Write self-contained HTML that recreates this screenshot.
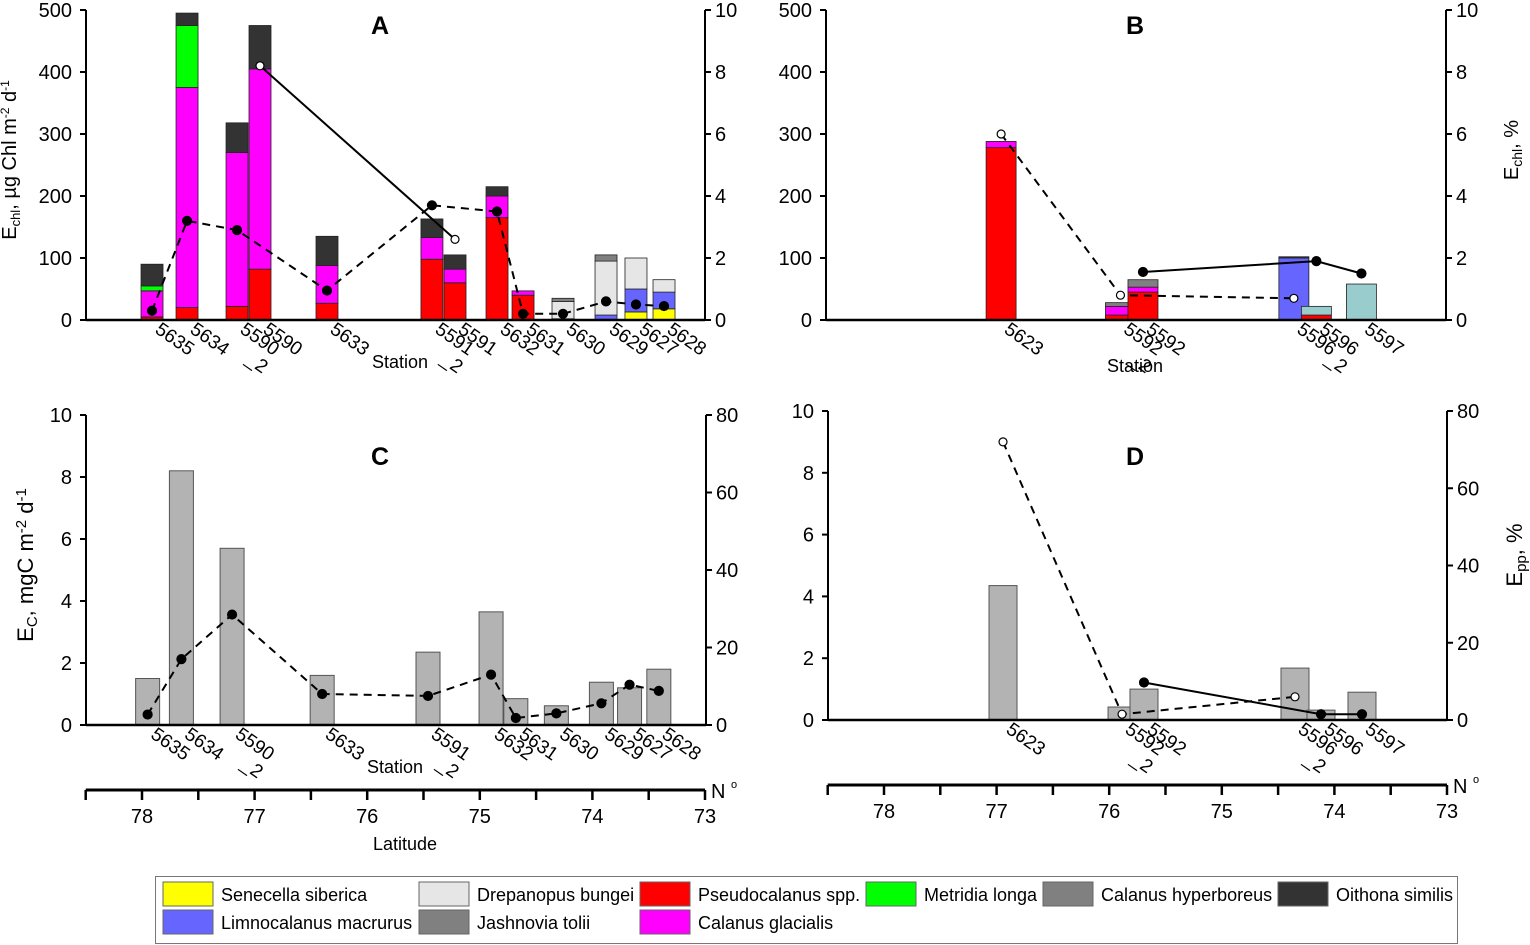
<!DOCTYPE html>
<html><head><meta charset="utf-8"><style>
html,body{margin:0;padding:0;background:#fff;}
svg{display:block;font-family:"Liberation Sans",sans-serif;}
</style></head><body>
<svg id="fig" width="1530" height="945" viewBox="0 0 1530 945"></svg>
<script>
// ---------- DATA ----------
const speciesNames = ["Senecella siberica","Limnocalanus macrurus","Pseudocalanus spp.","Calanus glacialis","Metridia longa","Drepanopus bungei","Calanus hyperboreus","Oithona similis","Other"];
const speciesColors = ["#ffff00","#6666ff","#ff0000","#ff00ff","#00ff00","#e6e6e6","#808080","#333333","#99cccc"];

const stationsA = ["5635","5634","5590_2","5590","5633","5591_2","5591","5632","5631","5630","5629","5627","5628"];
const posA = [77.911,77.60,77.156,76.952,76.357,75.425,75.22,74.847,74.616,74.261,73.879,73.613,73.364];
const stackA = [
 [0,0,0,0,0,0,0,0,0,0,0,13,18],
 [0,0,0,0,0,0,0,0,0,2,8,37,27],
 [5,20,22,82,27,98,60,165,40,0,0,0,0],
 [42,355,248,323,61,35,22,35,7,0,0,0,0],
 [8,100,0,0,0,0,0,0,0,0,0,0,0],
 [0,0,0,0,0,0,0,0,0,28,87,50,20],
 [0,0,0,0,0,0,0,0,0,5,10,0,0],
 [35,20,48,70,47,30,23,15,0,0,0,0,0],
 [0,0,0,0,0,0,0,0,0,0,0,0,0]
];
const dashStA = ["5635","5634","5590_2","5633","5591_2","5632","5631","5630","5629","5627","5628"];
const dashValA = [0.3,3.2,2.9,0.95,3.7,3.5,0.2,0.2,0.6,0.5,0.45];
const solidStA = ["5590","5591"];
const solidValA = [8.2,2.6];

const stationsB = ["5623","5592_2","5592","5596","5596_2","5597"];
const posB = [76.96,75.90,75.70,74.36,74.16,73.76];
const stackB = [
 [0,0,0,0,0,0],
 [0,0,0,100,0,0],
 [278,8,45,0,8,0],
 [10,14,8,0,0,0],
 [0,0,0,0,0,0],
 [0,0,0,0,0,0],
 [0,6,12,0,0,0],
 [0,0,0,2,0,0],
 [0,0,0,0,14,58]
];
const dashStB = ["5623","5592_2","5596"];
const dashValB = [6.0,0.8,0.7];
const solidStB = ["5592","5596_2","5597"];
const solidValB = [1.55,1.9,1.5];

const stationsC = ["5635","5634","5590_2","5633","5591_2","5632","5631","5630","5629","5627","5628"];
const latC = [77.95,77.65,77.2,76.4,75.46,74.9,74.68,74.32,73.92,73.67,73.41];
const valC = [1.5,8.2,5.7,1.6,2.35,3.65,0.85,0.62,1.38,1.2,1.8];
const pctC = [2.7,17,28.5,8,7.5,13,1.8,3,5.6,10.4,8.8];

const stationsD = ["5623","5592_2","5592","5596_2","5596","5597"];
const latD = [76.943,75.886,75.691,74.35,74.119,73.755];
const valD = [4.35,0.42,1.0,1.68,0.32,0.9];
const dashStD = ["5623","5592_2","5596_2"];
const dashValD = [72,1.5,6];
const solidStD = ["5592","5596","5597"];
const solidValD = [9.7,1.5,1.5];

const ticksChl = [0,100,200,300,400,500];
const ticksPct10 = [0,2,4,6,8,10];
const ticksPct80 = [0,20,40,60,80];
const ticksLat = [78,77,76,75,74,73];

// ---------- HELPERS ----------
const NS="http://www.w3.org/2000/svg";
const svg=document.getElementById("fig");
function el(tag,attrs,parent,txt){const e=document.createElementNS(NS,tag);for(const k in attrs)e.setAttribute(k,attrs[k]);if(txt!==undefined)e.textContent=txt;(parent||svg).appendChild(e);return e;}
function grp(name){const g=el("g",{});return g;}

function panel(cfg){
  const P=grp(cfg.name);
  const xs=lat=>cfg.x78+(78-lat)*112.6;
  const yl=v=>cfg.y0-(v/cfg.lmax)*(cfg.y0-cfg.ytop);
  const yr=v=>cfg.y0-(v/cfg.rmax)*(cfg.y0-cfg.ytop);
  const bg=el("g",{},P);
  cfg.bars(bg,xs,yl);
  const xa=el("line",{x1:cfg.xl,x2:cfg.xr,y1:cfg.y0,y2:cfg.y0,stroke:"#000","stroke-width":2.5},P);
  
  const la=el("g",{},P);
  el("line",{x1:cfg.xl,x2:cfg.xl,y1:cfg.ytop,y2:cfg.y0,stroke:"#000","stroke-width":2},la);
  cfg.lticks.forEach(t=>{const y=yl(t);el("line",{x1:cfg.xl-6,x2:cfg.xl,y1:y,y2:y,stroke:"#000","stroke-width":2},la);
    const tx=el("text",{x:cfg.xl-14,y:y+7,"text-anchor":"end","font-size":20},la,t);});
  const ra=el("g",{},P);
  el("line",{x1:cfg.xr,x2:cfg.xr,y1:cfg.ytop,y2:cfg.y0,stroke:"#000","stroke-width":2},ra);
  cfg.rticks.forEach(t=>{const y=yr(t);el("line",{x1:cfg.xr,x2:cfg.xr+6,y1:y,y2:y,stroke:"#000","stroke-width":2},ra);
    const tx=el("text",{x:cfg.xr+10,y:y+7,"font-size":20},ra,t);});
  function series(st,vals,pos,stations,dash,open,nm){
    const pts=st.map((s,i)=>[xs(pos[stations.indexOf(s)]),yr(vals[i])]);
    const sg=el("g",{},P);
    el("polyline",{points:pts.map(p=>p.join(",")).join(" "),fill:"none",stroke:"#000","stroke-width":2,"stroke-dasharray":dash?"8,6":"none"},sg);
    pts.forEach(p=>{const c=el("circle",{cx:p[0],cy:p[1],r:open?4:4.5,fill:open?"#fff":"#000",stroke:"#000","stroke-width":1.2},sg);});
  }
  cfg.lines.forEach(l=>series(l[0],l[1],cfg.pos,cfg.stations,l[2],l[3],l[4]));
  const sl=el("g",{},P);
  cfg.stations.forEach((s,i)=>{const x=xs(cfg.pos[i])+2,y=cfg.y0+12;
    const t=el("text",{x:x,y:y,"font-size":19,transform:`rotate(35 ${x} ${y})`},sl);
    const parts=s.split("_");el("tspan",{x:x,dy:0},t,parts[0]);
    if(parts.length>1)el("tspan",{x:x+22,dy:21},t,"_"+parts[1]);});
  const tl=el("text",{x:cfg.tx,y:cfg.ty,"font-size":25,"font-weight":"bold","text-anchor":"middle"},P,cfg.letter);
  
  return {xs,yl,yr,P};
}
function stacks(stack,pos,w){return (g,xs,yl)=>{
  pos.forEach((p,i)=>{let base=0;stack.forEach((ser,k)=>{const v=ser[i];if(v<=0)return;
    const y1=yl(base+v),y0=yl(base);const r=el("rect",{x:xs(p)-w/2,y:y1,width:w,height:y0-y1,fill:speciesColors[k],stroke:"#222","stroke-width":0.8},g);
    base+=v;});});};}
function plain(vals,pos,w){return (g,xs,yl)=>{pos.forEach((p,i)=>{const y=yl(vals[i]);
  const r=el("rect",{x:xs(p)-w/2,y:y,width:w,height:yl(0)-y,fill:"#b3b3b3",stroke:"#555","stroke-width":1},g);
  });};}

panel({name:"panel-a",letter:"A",tx:380,ty:34,x78:142,xl:86,xr:705,ytop:10,y0:320,lmax:500,rmax:10,lticks:ticksChl,rticks:ticksPct10,
  stations:stationsA,pos:posA,bars:stacks(stackA,posA,22),
  lines:[[dashStA,dashValA,true,false,"dashed-line-a"],[solidStA,solidValA,false,true,"solid-line-a"]]});
panel({name:"panel-b",letter:"B",tx:1135,ty:34,x78:884,xl:826,xr:1446,ytop:10,y0:320,lmax:500,rmax:10,lticks:ticksChl,rticks:ticksPct10,
  stations:stationsB,pos:posB,bars:stacks(stackB,posB,30),
  lines:[[dashStB,dashValB,true,true,"dashed-line-b"],[solidStB,solidValB,false,false,"solid-line-b"]]});
panel({name:"panel-c",letter:"C",tx:380,ty:465,x78:142,xl:86,xr:706,ytop:415,y0:725,lmax:10,rmax:80,lticks:ticksPct10,rticks:ticksPct80,
  stations:stationsC,pos:latC,bars:plain(valC,latC,24),
  lines:[[stationsC,pctC,true,false,"dashed-line-c"]]});
panel({name:"panel-d",letter:"D",tx:1135,ty:465,x78:884,xl:828,xr:1447,ytop:411,y0:720,lmax:10,rmax:80,lticks:ticksPct10,rticks:ticksPct80,
  stations:stationsD,pos:latD,bars:plain(valD,latD,28),
  lines:[[dashStD,dashValD,true,true,"dashed-line-d"],[solidStD,solidValD,false,false,"solid-line-d"]]});

function latAxis(x78,y,name){const g=grp(name);
  const xs=l=>x78+(78-l)*112.6;
  el("line",{x1:xs(78.5),x2:xs(73),y1:y,y2:y,stroke:"#000","stroke-width":3},g);
  for(let l=78.5;l>=73;l-=0.5){el("line",{x1:xs(l),x2:xs(l),y1:y,y2:y+10,stroke:"#000","stroke-width":2.5},g);}
  ticksLat.forEach(t=>{const tx=el("text",{x:xs(t),y:y+33,"font-size":20,"text-anchor":"middle"},g,t);});
  const n=el("text",{x:xs(73)+6,y:y+8,"font-size":20},g,"N");
  el("text",{x:xs(73)+26,y:y-2,"font-size":11},g,"o");
}
latAxis(142,790,"latitude-axis-c");
latAxis(884,785,"latitude-axis-d");

function txt(x,y,s,size,name,rot,anchor){const t=el("text",{x:x,y:y,"font-size":size,"text-anchor":anchor||"middle"});if(rot)t.setAttribute("transform",`rotate(${rot} ${x} ${y})`);t.innerHTML=s;return t;}
txt(400,368,"Station",18,"x-axis-title-a");
txt(1135,372,"Station",18,"x-axis-title-b");
txt(395,773,"Station",18,"x-axis-title-c");
txt(405,850,"Latitude",18,"latitude-title");
txt(16,160,'E<tspan font-size="13" dy="4">chl</tspan><tspan dy="-4">, µg Chl m</tspan><tspan font-size="12" dy="-7">-2</tspan><tspan dy="7"> d</tspan><tspan font-size="12" dy="-7">-1</tspan>',20,"y-axis-title-a",-90);
txt(1518,150,'E<tspan font-size="14" dy="4">chl</tspan><tspan dy="-4">, %</tspan>',20,"y-axis-title-b",-90);
txt(33,565,'E<tspan font-size="15" dy="4">C</tspan><tspan dy="-4">, mgC m</tspan><tspan font-size="15" dy="-7">-2</tspan><tspan dy="7"> d</tspan><tspan font-size="15" dy="-7">-1</tspan>',22,"y-axis-title-c",-90);
txt(1522,555,'E<tspan font-size="15" dy="4">pp</tspan><tspan dy="-4">, %</tspan>',22,"y-axis-title-d",-90);

const L=grp("legend");
el("rect",{x:155.5,y:876.5,width:1302,height:67,fill:"#fff",stroke:"#777","stroke-width":1},L);
const legCols=[163,419,640,866,1043,1278];
const legItems=[[0,0,0],[5,1,0],[2,2,0],[4,3,0],[6,4,0],[7,5,0],[1,0,1],[6,1,1],[3,2,1]];
const legLabels=["Senecella siberica","Drepanopus bungei","Pseudocalanus spp.","Metridia longa","Calanus hyperboreus","Oithona similis","Limnocalanus macrurus","Jashnovia tolii","Calanus glacialis"];
legItems.forEach((it,i)=>{const x=legCols[it[1]],y=882+it[2]*28;
  const e=el("g",{},L);
  el("rect",{x:x,y:y,width:50,height:24,fill:speciesColors[it[0]],stroke:"#666","stroke-width":1},e);
  el("text",{x:x+58,y:y+19,"font-size":18},e,legLabels[i]);});
</script>
</body></html>
